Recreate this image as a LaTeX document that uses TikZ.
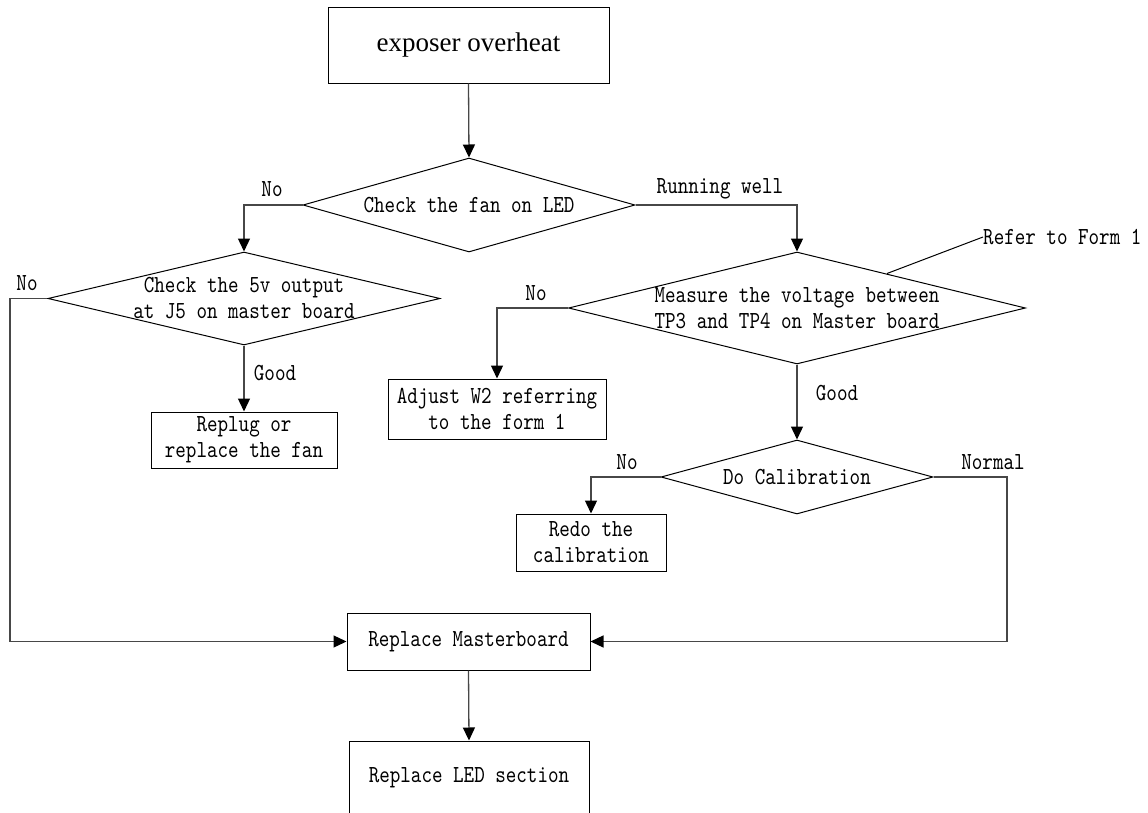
\documentclass[tikz,border=0pt]{standalone}
\usepackage{fontspec}
\setmainfont{Liberation Serif}
\newfontfamily\monofnt{lmmono10-regular.otf}[FakeStretch=0.82]
\newcommand\myfnt{\monofnt\fontsize{24.5bp}{26bp}\selectfont}
\usetikzlibrary{shapes.geometric,arrows.meta}
\begin{document}
\begin{tikzpicture}[x=1bp,y=-1bp,
  box/.style={draw=black,line width=1bp,inner sep=0pt,font=\myfnt,align=center},
  dia/.style={draw=black,line width=1bp,diamond,inner sep=0pt},
  conn/.style={draw=black!72,line width=1.3bp,-{Triangle[length=13bp,width=12bp,color=black]}},
  plain/.style={draw=black,line width=1bp},
  lbl/.style={inner sep=0pt,font=\myfnt},
  dtext/.style={font=\myfnt,align=center,inner sep=0pt}]
\useasboundingbox (0,0) rectangle (1148,813);
\clip (0,0) rectangle (1148,813);

% nodes
\node[box,minimum width=281bp,minimum height=75bp,font=\fontsize{27bp}{30bp}\selectfont] (start) at (468.5,45.5) {exposer overheat};
\node[dia,minimum width=332bp,minimum height=94bp,label={[dtext]center:Check the fan on LED}] (d1) at (469,205) {};
\node[dia,minimum width=392bp,minimum height=93bp,label={[dtext]center:{Check the 5v output\\at J5 on master board}}] (d2) at (244,298.5) {};
\node[dia,minimum width=457bp,minimum height=112bp,label={[dtext]center:{Measure the voltage between\\TP3 and TP4 on Master board}}] (d3) at (797,308) {};
\node[dia,minimum width=272bp,minimum height=74bp,label={[dtext]center:Do Calibration}] (d4) at (797,477) {};
\node[box,minimum width=186bp,minimum height=56bp] (replug) at (244,440) {Replug or\\replace the fan};
\node[box,minimum width=218bp,minimum height=60bp] (adjust) at (497,409) {Adjust W2 referring\\to the form 1};
\node[box,minimum width=150bp,minimum height=57bp] (redo) at (591,542.5) {Redo the\\calibration};
\node[box,minimum width=243bp,minimum height=57bp] (master) at (468.5,641.5) {Replace Masterboard};
\node[box,minimum width=240bp,minimum height=73bp] (led) at (469,777.5) {Replace LED section};
\node[lbl,anchor=west] (refer) at (983,237) {Refer to Form 1};

\coordinate (lft) at (10,0);
\coordinate (rgt) at (1007,0);
\coordinate (rf) at (887,273.5);

% connectors
\draw[conn] (start.south) -- (d1.north);
\draw[conn] (d1.west) -| (d2.north);
\draw[conn] (d1.east) -| (d3.north);
\draw[conn] (d2.south) -- (replug.north);
\draw[conn] (d2.west) -- (d2.west -| lft) |- (master.west);
\draw[conn] (d3.west) -| (adjust.north);
\draw[conn] (d3.south) -- (d4.north);
\draw[conn] (d4.west) -| (redo.north);
\draw[conn] (d4.east) -- (d4.east -| rgt) |- (master.east);
\draw[conn] (master.south) -- (led.north);
\draw[plain] (rf) -- (refer.west);

% labels
\node[lbl] (n1) at (272,189) {No};
\node[lbl] (rw) at (720,189) {Running well};
\node[lbl] (n2) at (27,283) {No};
\node[lbl] (g1) at (275,373) {Good};
\node[lbl] (n3) at (536,293) {No};
\node[lbl] (g2) at (837,393) {Good};
\node[lbl] (n4) at (627,462) {No};
\node[lbl] (nm) at (993,462) {Normal};
\end{tikzpicture}
\end{document}
